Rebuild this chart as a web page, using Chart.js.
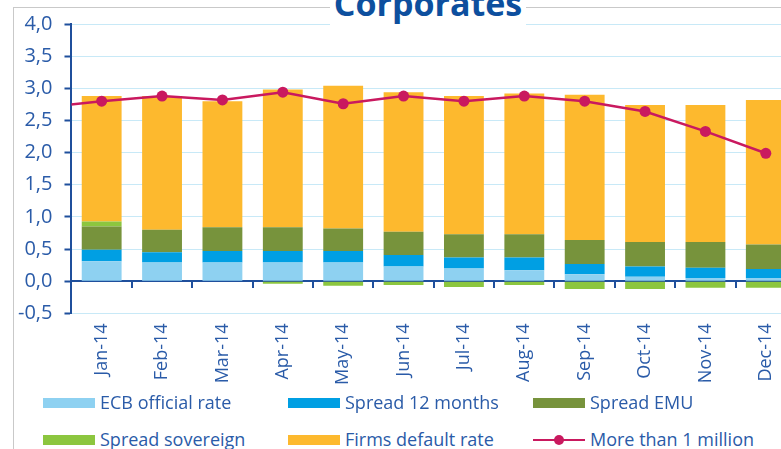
<!DOCTYPE html>
<html>
<head>
<meta charset="utf-8">
<script src="https://cdn.jsdelivr.net/npm/chart.js@4.4.1/dist/chart.umd.min.js"></script>
<style>
    html, body { margin: 0; padding: 0; background: #fff; overflow: hidden; }
    body { width: 781px; height: 449px; position: relative; font-family: "Open Sans", sans-serif; }
    .frame { position: absolute; left: 13px; top: 7px; width: 900px; height: 500px; border: 1px solid #c9c9c9; }
    .title { position: absolute; left: 0; width: 856px; top: -14px; text-align: center; line-height: 34px; }
    .title span { background: #fff; padding: 0 4px; font-size: 34px; font-weight: 700; color: #0d4f9e; }
    .chart-box { position: absolute; left: 0; top: 0; width: 856px; height: 414px; }
    .legend-item { position: absolute; height: 20px; font-size: 18px; line-height: 20px; color: #2a5ba8; white-space: nowrap; }
    .legend-item .swatch { position: absolute; left: 0; top: 5px; width: 52px; height: 10px; }
    .legend-item .text { position: absolute; left: 57px; top: -1px; }
    .legend-item .lline { position: absolute; left: 0; top: 9px; width: 52px; height: 2px; }
    .legend-item .ldot { position: absolute; left: 21px; top: 5px; width: 10px; height: 10px; border-radius: 50%; }
</style>
</head>
<body>
<div class="frame"></div>
<div class="chart-box"><canvas id="chart"></canvas></div>
<div class="title"><span>Corporates</span></div>
<div id="legend"></div>

<script>
// ========== DATA ==========
const months = ['Jan-14', 'Feb-14', 'Mar-14', 'Apr-14', 'May-14', 'Jun-14',
                'Jul-14', 'Aug-14', 'Sep-14', 'Oct-14', 'Nov-14', 'Dec-14'];
const ecbRate        = [0.31, 0.29, 0.29, 0.29, 0.29, 0.23, 0.20, 0.17, 0.11, 0.07, 0.05, 0.05];
const spread12Months = [0.18, 0.16, 0.18, 0.18, 0.18, 0.18, 0.17, 0.20, 0.16, 0.16, 0.16, 0.14];
const spreadEmu      = [0.36, 0.35, 0.37, 0.37, 0.35, 0.36, 0.36, 0.36, 0.37, 0.38, 0.40, 0.38];
const spreadSovereign = [0.08, 0.00, 0.00, -0.04, -0.07, -0.06, -0.09, -0.06, -0.12, -0.12, -0.10, -0.10];
const firmsDefault   = [1.95, 2.08, 1.96, 2.14, 2.22, 2.17, 2.15, 2.19, 2.26, 2.13, 2.13, 2.25];
const moreThanMillion = [2.80, 2.88, 2.82, 2.94, 2.76, 2.88, 2.80, 2.88, 2.80, 2.64, 2.33, 1.99];
// line enters the plot from the previous month (Dec-13), outside the visible range
const prevMonth = 'Dec-13';
const prevMoreThanMillion = 2.70;
const yTicks = { min: -0.5, max: 4.0, step: 0.5 };

const colors = {
    ecb: '#8ed1f1',
    spread12: '#009fe3',
    emu: '#77933c',
    sovereign: '#8cc63f',
    firms: '#fdb92e',
    line: '#c9195f',
    axis: '#1f4f9c',
    grid: '#c8e9f7',
    text: '#2a5ba8'
};

const labels = [prevMonth, ...months];
const pad = arr => [null, ...arr];

const barSeries = [
    { label: 'ECB official rate', data: ecbRate, color: colors.ecb },
    { label: 'Spread 12 months', data: spread12Months, color: colors.spread12 },
    { label: 'Spread EMU', data: spreadEmu, color: colors.emu },
    { label: 'Spread sovereign', data: spreadSovereign, color: colors.sovereign },
    { label: 'Firms default rate', data: firmsDefault, color: colors.firms }
];

const datasets = barSeries.map(s => ({
    type: 'bar',
    label: s.label,
    data: pad(s.data),
    backgroundColor: s.color,
    borderWidth: 0,
    categoryPercentage: 1.0,
    barPercentage: 0.66,
    order: 1
}));

datasets.push({
    type: 'line',
    label: 'More than 1 million',
    data: [prevMoreThanMillion, ...moreThanMillion],
    borderColor: colors.line,
    backgroundColor: colors.line,
    borderWidth: 2.5,
    pointRadius: 5.5,
    pointHoverRadius: 5.5,
    pointBorderWidth: 0,
    tension: 0,
    stack: 'line',
    order: 0
});

// ========== CHART ==========
new Chart(document.getElementById('chart'), {
    data: { labels: labels, datasets: datasets },
    options: {
        responsive: true,
        maintainAspectRatio: false,
        animation: false,
        layout: { padding: { left: 6, top: 18, right: 60, bottom: 19 } },
        plugins: {
            legend: { display: false },
            tooltip: { enabled: false },
            title: { display: false }
        },
        scales: {
            x: {
                type: 'category',
                stacked: true,
                min: months[0],
                max: months[months.length - 1],
                offset: true,
                grid: { display: false, drawTicks: false },
                border: { display: false },
                ticks: {
                    color: colors.text,
                    font: { family: 'Open Sans', size: 18 },
                    minRotation: 90,
                    maxRotation: 90,
                    padding: 10,
                    autoSkip: false
                }
            },
            // axis line at zero with small ticks between months
            x2: {
                type: 'category',
                labels: labels,
                min: months[0],
                max: months[months.length - 1],
                position: { y: 0 },
                offset: true,
                z: 1,
                grid: {
                    offset: true,
                    drawOnChartArea: false,
                    drawTicks: true,
                    tickLength: 6,
                    color: colors.axis,
                    lineWidth: 2
                },
                border: { display: true, color: colors.axis, width: 2 },
                ticks: { display: false }
            },
            y: {
                stacked: true,
                min: yTicks.min,
                max: yTicks.max,
                grid: {
                    color: ctx => ctx.tick && ctx.tick.value === 0 ? 'rgba(0,0,0,0)' : colors.grid,
                    lineWidth: 1,
                    tickLength: 7,
                    tickColor: colors.axis,
                    tickWidth: 2
                },
                border: { display: true, color: colors.axis, width: 2 },
                ticks: {
                    stepSize: yTicks.step,
                    color: colors.text,
                    font: { family: 'Open Sans', size: 20 },
                    padding: 12,
                    callback: value => value.toFixed(1).replace('.', ',')
                }
            }
        }
    }
});

// ========== LEGEND ==========
const legendItems = [
    { label: 'ECB official rate', color: colors.ecb, x: 43, y: 393 },
    { label: 'Spread 12 months', color: colors.spread12, x: 288, y: 393 },
    { label: 'Spread EMU', color: colors.emu, x: 533, y: 393 },
    { label: 'Spread sovereign', color: colors.sovereign, x: 43, y: 430 },
    { label: 'Firms default rate', color: colors.firms, x: 288, y: 430 },
    { label: 'More than 1 million', color: colors.line, x: 533, y: 430, line: true }
];

const legend = document.getElementById('legend');
legendItems.forEach(item => {
    const el = document.createElement('div');
    el.className = 'legend-item';
    el.style.left = item.x + 'px';
    el.style.top = item.y + 'px';
    if (item.line) {
        el.innerHTML = `
            <span class="lline" style="background:${item.color}"></span>
            <span class="ldot" style="background:${item.color}"></span>
            <span class="text">${item.label}</span>`;
    } else {
        el.innerHTML = `
            <span class="swatch" style="background:${item.color}"></span>
            <span class="text">${item.label}</span>`;
    }
    legend.appendChild(el);
});
</script>
</body>
</html>
